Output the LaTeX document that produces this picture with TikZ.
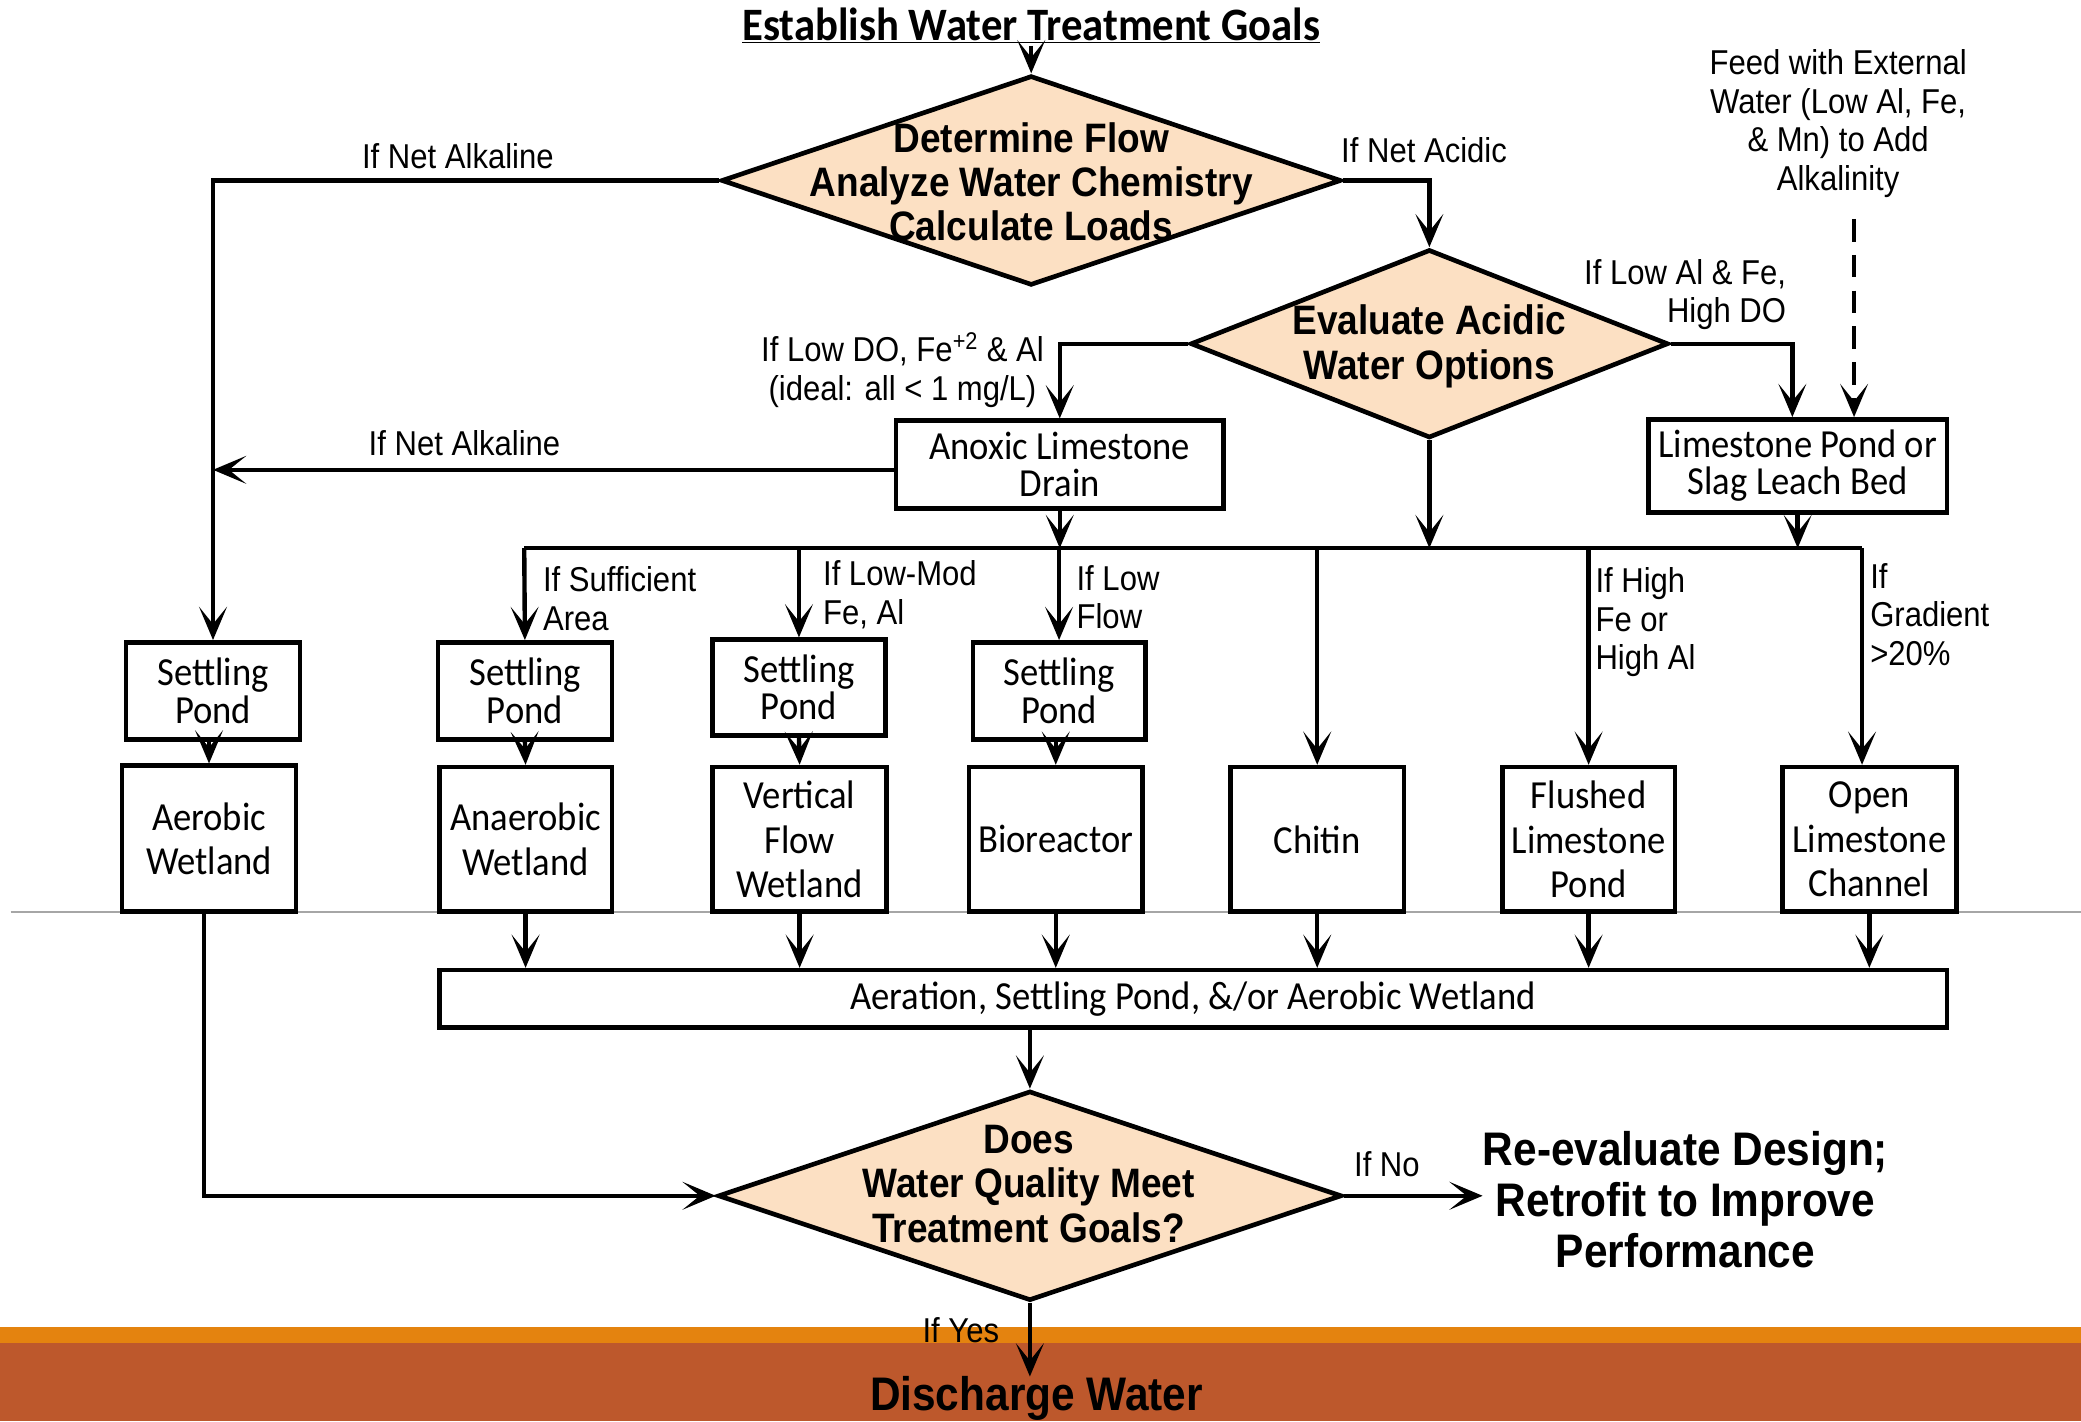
\documentclass[tikz,border=0pt]{standalone}
\usepackage{fontspec}
\setmainfont{Liberation Sans}
\newfontfamily\labfont[FakeStretch=0.9]{Liberation Sans}
\newfontfamily\calfont[FakeStretch=0.92]{Carlito}
\usetikzlibrary{shapes.geometric,arrows.meta}
\definecolor{peach}{HTML}{FCE0C3}
\definecolor{bandorange}{HTML}{E4830F}
\definecolor{bandbrown}{HTML}{BD582C}
\definecolor{thingrey}{HTML}{A6A6A6}
\begin{document}
\begin{tikzpicture}[x=1pt,y=-1pt,
  lbl/.style={font=\labfont\fontsize{26}{29}\selectfont, inner sep=0pt, align=center},
  lbll/.style={lbl, align=left, anchor=west},
  box/.style={draw, line width=3.5pt, font=\calfont\fontsize{30}{28}\selectfont, align=center, inner sep=0pt},
  tallbox/.style={box, font=\calfont\fontsize{30}{33.5}\selectfont},
  dia/.style={diamond, draw, line width=3.5pt, fill=peach, inner sep=0pt},
  dtext/.style={font=\labfont\bfseries\fontsize{31}{33.5}\selectfont, align=center, inner sep=0pt},
  bigtext/.style={font=\labfont\bfseries\fontsize{35.5}{38.5}\selectfont, align=center, inner sep=0pt},
  conn/.style={line width=3.3pt, -{Stealth[length=25pt,width=21pt,inset=13pt]}},
  dconn/.style={conn, dash pattern=on 17pt off 10pt},
  plain/.style={line width=3.3pt}
]
\useasboundingbox (0,0) rectangle (1568,1071);
% background bands
\fill[bandorange] (0,1000) rectangle (1568,1012);
\fill[bandbrown] (0,1012) rectangle (1568,1071);
\draw[thingrey, line width=1.5pt] (8,687) -- (1568,687);

% title
\node[font=\calfont\bfseries\fontsize{35}{38}\selectfont, inner sep=2pt] (title) at (777,19) {\underline{Establish Water Treatment Goals}};

% diamonds
\node[dia, minimum width=467pt, minimum height=158pt] (d1) at (777,136) {};
\node[dtext] (d1t) at (777,137) {Determine Flow\\Analyze Water Chemistry\\Calculate Loads};
\node[dia, minimum width=360pt, minimum height=142pt] (d2) at (1077,259) {};
\node[dtext] (d2t) at (1077,261) {Evaluate Acidic\\Water Options};
\node[dia, minimum width=470pt, minimum height=158pt] (d3) at (776,901) {};
\node[dtext] (d3t) at (775,892) {Does\\Water Quality Meet\\Treatment Goals?};

% boxes
\node[box, minimum width=247pt, minimum height=66pt] (ald) at (798.5,350) {Anoxic Limestone\\Drain};
\node[box, minimum width=225pt, minimum height=70pt] (lsp) at (1354.5,351) {Limestone Pond or\\Slag Leach Bed};
\node[box, minimum width=131pt, minimum height=73pt] (sp1) at (160.5,520.5) {Settling\\Pond};
\node[box, minimum width=131pt, minimum height=73pt] (sp2) at (395.5,520.5) {Settling\\Pond};
\node[box, minimum width=130pt, minimum height=72pt] (sp3) at (602,518) {Settling\\Pond};
\node[box, minimum width=130pt, minimum height=73pt] (sp4) at (798,520.5) {Settling\\Pond};
\node[tallbox, minimum width=131pt, minimum height=110pt] (aw) at (157.5,632) {Aerobic\\Wetland};
\node[tallbox, minimum width=130pt, minimum height=109pt] (anw) at (396,632.5) {Anaerobic\\Wetland};
\node[tallbox, minimum width=131pt, minimum height=109pt] (vfw) at (602.5,632.5) {Vertical\\Flow\\Wetland};
\node[tallbox, minimum width=131pt, minimum height=109pt] (bio) at (795.5,632.5) {Bioreactor};
\node[tallbox, minimum width=131pt, minimum height=109pt] (chi) at (992.5,632.5) {Chitin};
\node[tallbox, minimum width=130pt, minimum height=109pt] (flp) at (1197,632.5) {Flushed\\Limestone\\Pond};
\node[tallbox, minimum width=131pt, minimum height=109pt] (olc) at (1408.5,632.5) {Open\\Limestone\\Channel};
\node[box, minimum width=1136pt, minimum height=43pt] (aer) at (899,752.5) {Aeration, Settling Pond, \&/or Aerobic Wetland};

% free texts
\node[lbl] (feed) at (1385,93) {Feed with External\\Water (Low Al, Fe,\\\& Mn) to Add\\Alkalinity};
\node[bigtext] (reeval) at (1270,904) {Re-evaluate Design;\\Retrofit to Improve\\Performance};
\node[bigtext] (dis) at (781,1054) {Discharge Water};

% labels
\node[lbl] (l1) at (345,118) {If Net Alkaline};
\node[lbl] (l2) at (1073,113) {If Net Acidic};
\node[lbl] (l3) at (680,279) {If Low DO, Fe\textsuperscript{+2} \& Al\\(ideal: all < 1 mg/L)};
\node[lbl, align=right, anchor=east] (l4) at (1346,222) {If Low Al \& Fe,\\High DO};
\node[lbl] (l5) at (350,334) {If Net Alkaline};
\node[lbll] (l6) at (409,451) {If Sufficient\\Area};
\node[lbll] (l7) at (620,448) {If Low-Mod\\Fe, Al};
\node[lbll] (l8) at (811,450) {If Low\\Flow};
\node[lbll] (l9) at (1202,469) {If High\\Fe or\\High Al};
\node[lbll] (l10) at (1409,463) {If\\Gradient\\>20\%};
\node[lbl] (l11) at (1045,877) {If No};
\node[lbl] (l12) at (724,1002) {If Yes};

% coordinates
\coordinate (busL) at (395,413);
\coordinate (busR) at (1403,413);
\coordinate (feedend) at (1397,165);

% connectors
\draw[conn] (title.south) -- (d1.north);
\draw[conn] (d1.west) -| (sp1.north);
\draw[conn] (d1.east) -| (d2.north);
\draw[conn] (d2.west) -| (ald.north);
\draw[conn] (d2.east) -| ([xshift=-4pt]lsp.north);
\draw[dconn] (feedend) -- (feedend |- lsp.north);
\draw[conn] ([yshift=-4pt]ald.west) -- ([yshift=-4pt]ald.west -| sp1.north);
\draw[plain] (busL) -- (busR);
\draw[conn] (d2.south) -- (d2.south |- busL);
\draw[conn] (ald.south) -- (ald.south |- busL);
\draw[conn] (lsp.south) -- (lsp.south |- busL);
\draw[conn] (busL) -- (sp2.north);
\draw[conn] (sp3.north |- busL) -- (sp3.north);
\draw[conn] (sp4.north |- busL) -- (sp4.north);
\draw[conn] (chi.north |- busL) -- (chi.north);
\draw[conn] (flp.north |- busL) -- (flp.north);
\draw[conn] (busR) -- (busR |- olc.north);
\draw[conn] (aw.north |- sp1.south) -- (aw.north);
\draw[conn] (sp2.south) -- (anw.north);
\draw[conn] (sp3.south) -- (vfw.north);
\draw[conn] (bio.north |- sp4.south) -- (bio.north);
\draw[conn] (anw.south) -- (anw.south |- aer.north);
\draw[conn] (vfw.south) -- (vfw.south |- aer.north);
\draw[conn] (bio.south) -- (bio.south |- aer.north);
\draw[conn] (chi.south) -- (chi.south |- aer.north);
\draw[conn] (flp.south) -- (flp.south |- aer.north);
\draw[conn] (olc.south) -- (olc.south |- aer.north);
\draw[conn] (aer.south -| d3.north) -- (d3.north);
\draw[conn] ([xshift=-4pt]aw.south) |- (d3.west);
\draw[conn] (d3.east) -- (d3.east -| reeval.west);
\draw[conn] (d3.south) -- (d3.south |- dis.north);
\end{tikzpicture}
\end{document}
